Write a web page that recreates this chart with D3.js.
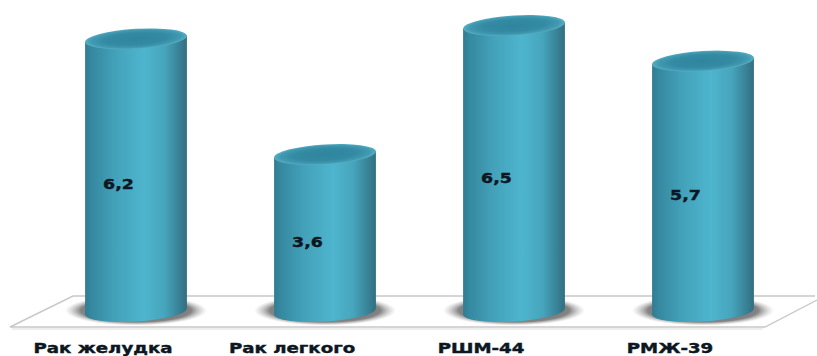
<!DOCTYPE html>
<html>
<head>
<meta charset="utf-8">
<script src="https://cdn.jsdelivr.net/npm/d3@7"></script>
<style>
html,body{margin:0;padding:0;background:#fff;overflow:hidden}
text{font-family:"DejaVu Sans",sans-serif;font-weight:bold;fill:#0c1722;stroke:#0c1722;stroke-width:0.4px}
</style>
</head>
<body>
<svg id="chart" width="817" height="356"></svg>
<script>
const categories = ["Рак желудка", "Рак легкого", "РШМ-44", "РМЖ-39"];
const values = [6.2, 3.6, 6.5, 5.7];
const valueLabels = ["6,2", "3,6", "6,5", "5,7"];

const svg = d3.select("#chart");
const defs = svg.append("defs");

const bodyGrad = defs.append("linearGradient").attr("id", "body");
[[0,"#317c92"],[0.06,"#35889f"],[0.3,"#43a2ba"],[0.58,"#4eb5ce"],[0.78,"#46a5bc"],[0.93,"#388095"],[1,"#326e80"]]
  .forEach(([o,c]) => bodyGrad.append("stop").attr("offset", o).attr("stop-color", c));

const capGrad = defs.append("radialGradient").attr("id", "cap");
[[0,"#2f859d"],[0.6,"#338aa2"],[0.88,"#409ab1"],[1,"#58aec4"]]
  .forEach(([o,c]) => capGrad.append("stop").attr("offset", o).attr("stop-color", c));

const shadeGrad = defs.append("radialGradient").attr("id", "shade");
[[0,"#444",0.95],[0.78,"#666",0.8],[1,"#aaa",0]]
  .forEach(([o,c,a]) => shadeGrad.append("stop").attr("offset", o).attr("stop-color", c).attr("stop-opacity", a));

const x = d3.scalePoint().domain(categories).range([136, 703]);
const y = d3.scaleLinear().domain([0, 6.5]).range([314.5, 25.5]);
const baseY = y(0) - 3;
const rx = 51, ry = 10, tilt = -3.5;
const dy = rx * Math.sin(-tilt * Math.PI / 180);
const dx = rx * Math.cos(tilt * Math.PI / 180);

// floor of the 3D plot
svg.append("path")
  .attr("d", d3.line()([[817,300],[765,327],[10,327],[73,296],[815,296]]))
  .attr("fill", "none").attr("stroke", "#c8c8c8").attr("stroke-width", 1.4);
svg.append("path").attr("d", d3.line()([[12,329],[763,329]]))
  .attr("stroke", "#eeeeee").attr("stroke-width", 2).attr("fill", "none");

const bars = svg.append("g").selectAll("g").data(values).join("g");

// contact shadow on the floor
bars.append("ellipse")
  .attr("cx", (d, i) => x(categories[i]))
  .attr("cy", baseY - 1)
  .attr("rx", 71).attr("ry", 15)
  .attr("fill", "url(#shade)");

// cylinder wall with its lower arc
bars.append("path")
  .attr("fill", "url(#body)")
  .attr("d", (d, i) => {
    const c = x(categories[i]);
    return `M${c-dx},${y(d)+dy}L${c-dx},${baseY+dy}` +
      `A${rx},${ry} ${tilt} 0 0 ${c+dx},${baseY-dy}` +
      `L${c+dx},${y(d)-dy}Z`;
  });

// top face
bars.append("ellipse")
  .attr("transform", (d, i) => `translate(${x(categories[i])},${y(d)}) rotate(${tilt})`)
  .attr("rx", rx).attr("ry", ry)
  .attr("fill", "url(#cap)");

// value labels
bars.append("text")
  .attr("transform", (d, i) =>
    `translate(${x(categories[i]) - 17.5},${(y(d) + baseY) / 2 + 14}) scale(1.2,1)`)
  .attr("text-anchor", "middle")
  .attr("font-size", 14.5)
  .text((d, i) => valueLabels[i]);

// category labels
svg.append("g").selectAll("text").data(categories).join("text")
  .attr("transform", d => `translate(${x(d) - 33},352.5) scale(1.3,1)`)
  .attr("text-anchor", "middle")
  .attr("font-size", 14)
  .text(d => d);
</script>
</body>
</html>
